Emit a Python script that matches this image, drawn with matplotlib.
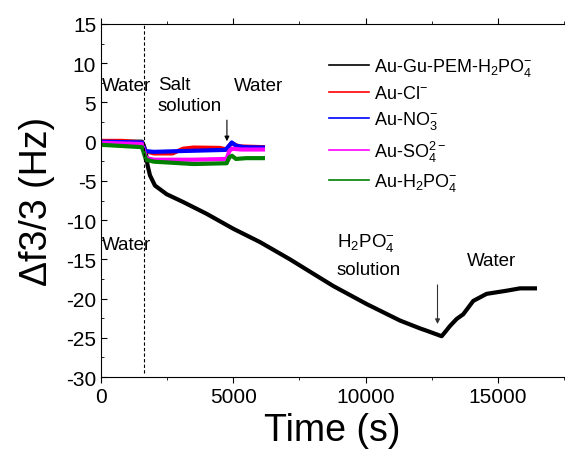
import matplotlib
matplotlib.use('Agg')
import matplotlib.pyplot as plt
from matplotlib.ticker import MultipleLocator

plt.rcParams['font.family'] = ['Liberation Sans', 'DejaVu Sans']
plt.rcParams['mathtext.fontset'] = 'custom'
plt.rcParams['mathtext.rm'] = 'Liberation Sans'
plt.rcParams['mathtext.it'] = 'Liberation Sans'
plt.rcParams['axes.unicode_minus'] = False

# Au-Gu-PEM-H2PO4- (time in s, frequency shift in Hz)
t_pem = [0, 1550, 1620, 1700, 1760, 1852, 2041, 2483, 3110, 3995, 5000, 6009, 7143,
         8152, 8780, 10042, 11300, 12056, 12310, 12876, 13000, 13190, 13443, 13693,
         14071, 14576, 15332, 15835, 16402]
f_pem = [0.0, 0.0, -0.5, -1.5, -3.0, -4.3, -5.6, -6.7, -7.7, -9.2, -11.1, -12.8, -15.0,
         -17.1, -18.4, -20.7, -22.8, -23.8, -24.1, -24.8, -24.3, -23.5, -22.6, -22.0,
         -20.3, -19.4, -19.0, -18.7, -18.7]

t_cl = [0, 800, 1550, 1680, 2000, 2700, 3100, 3500, 4500, 4750, 4850, 4950, 5200, 6120]
f_cl = [0.1, 0.1, -0.1, -1.2, -1.5, -1.5, -0.9, -0.75, -0.8, -1.0, -0.5, -0.2, -0.6, -0.7]

t_no3 = [0, 1550, 1680, 2000, 3000, 4700, 4850, 4940, 5100, 5400, 6120]
f_no3 = [0.0, -0.1, -1.2, -1.3, -1.2, -1.05, -0.5, -0.1, -0.5, -0.7, -0.75]

t_so4 = [0, 1550, 1700, 2000, 3500, 4750, 4850, 4950, 5300, 6120]
f_so4 = [-0.15, -0.3, -2.1, -2.3, -2.3, -2.2, -1.2, -0.9, -1.0, -1.0]

t_h2po4 = [0, 1550, 1700, 2000, 3500, 4750, 4850, 4950, 5100, 5500, 6120]
f_h2po4 = [-0.4, -0.7, -2.3, -2.55, -2.85, -2.75, -2.0, -1.8, -2.2, -2.1, -2.1]

fig = plt.figure(figsize=(5.68, 4.52), dpi=100)
ax = fig.add_axes([0.1778, 0.1637, 0.8151, 0.7810])

ax.plot(t_pem, f_pem, color='black', lw=3, label='Au-Gu-PEM-H$_2$PO$_4^{-}$')
ax.plot(t_cl, f_cl, color='red', lw=3, label='Au-Cl$^{-}$')
ax.plot(t_no3, f_no3, color='blue', lw=3, label='Au-NO$_3^{-}$')
ax.plot(t_so4, f_so4, color='magenta', lw=3, label='Au-SO$_4^{2-}$')
ax.plot(t_h2po4, f_h2po4, color='green', lw=3, label='Au-H$_2$PO$_4^{-}$')

ax.axvline(1625, ymin=0.01, ymax=1, color='black', lw=0.8, ls=(0, (3, 2)))

# arrows
ax.annotate('', xy=(4760, -0.3), xytext=(4760, 3.1),
            arrowprops=dict(arrowstyle='-|>', color='black', lw=0.8, mutation_scale=7))
ax.annotate('', xy=(12720, -23.6), xytext=(12720, -17.9),
            arrowprops=dict(arrowstyle='-|>', color='#333333', lw=0.8, mutation_scale=7))

fs = 13.5
ax.text(40, 7.1, 'Water', fontsize=fs, va='center')
ax.text(2150, 7.35, 'Salt', fontsize=fs, va='center')
ax.text(2150, 4.6, 'solution', fontsize=fs, va='center')
ax.text(5030, 7.1, 'Water', fontsize=fs, va='center')
ax.text(20, -13.1, 'Water', fontsize=fs, va='center')
ax.text(8920, -12.8, 'H$_2$PO$_4^{-}$', fontsize=fs, va='center')
ax.text(8920, -16.25, 'solution', fontsize=fs, va='center')
ax.text(13830, -15.2, 'Water', fontsize=fs, va='center')

ax.set_xlim(0, 17500)
ax.set_ylim(-30, 15)
ax.xaxis.set_major_locator(MultipleLocator(5000))
ax.xaxis.set_minor_locator(MultipleLocator(2500))
ax.yaxis.set_major_locator(MultipleLocator(5))
ax.yaxis.set_minor_locator(MultipleLocator(2.5))

ax.tick_params(axis='y', which='both', direction='in', labelsize=15, right=False)
ax.tick_params(axis='y', which='major', length=4)
ax.tick_params(axis='y', which='minor', length=2.5)
ax.tick_params(axis='x', which='both', direction='out', labelsize=15, top=True)
ax.tick_params(axis='x', which='major', length=4)
ax.tick_params(axis='x', which='minor', length=2.5)
ax.spines['right'].set_visible(False)

ax.set_xlabel('Time (s)', fontsize=27, labelpad=4)
ax.set_ylabel('Δf3/3 (Hz)', fontsize=27, labelpad=8)

leg = ax.legend(loc='upper left', bbox_to_anchor=(0.567, 0.89), bbox_transform=fig.transFigure,
                frameon=False, fontsize=13, handlelength=2.2, labelspacing=0.4,
                handletextpad=0.28, borderaxespad=0)
for line in leg.get_lines():
    line.set_linewidth(1.2)

fig.savefig('out.png', dpi=100)
